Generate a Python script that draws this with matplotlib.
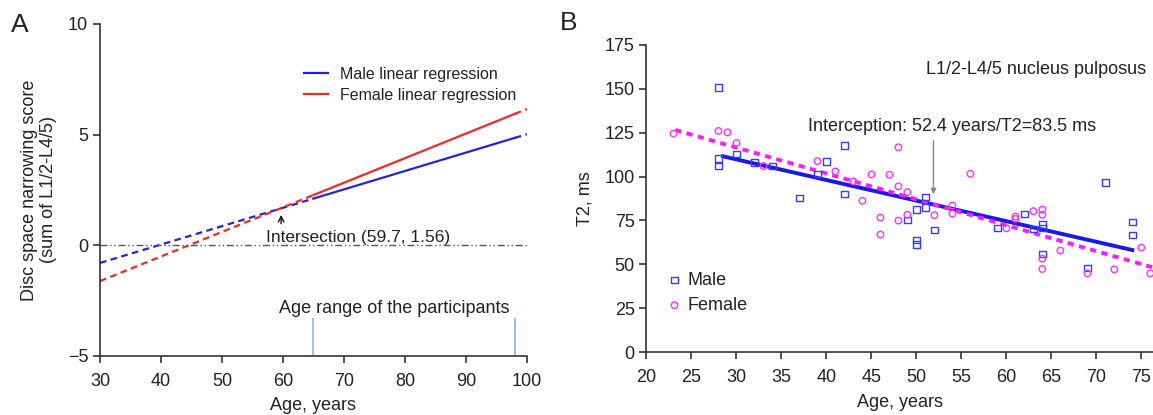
import numpy as np
import matplotlib
matplotlib.use("Agg")
import matplotlib.pyplot as plt

plt.rcParams['font.family'] = ['Liberation Sans', 'DejaVu Sans']

# panel A: linear regressions of disc space narrowing score vs age
male_slope, male_icpt = 0.0831, -3.29
female_slope, female_icpt = 0.1111, -4.95
age_lo, age_hi = 65, 98          # age range of participants
intersect = (59.7, 1.56)

# panel B: T2 of nucleus pulposus
male_age = [28, 28, 28, 30, 32, 34, 37, 39, 40, 42, 42, 49, 50, 50, 50, 51, 51, 52,
            59, 62, 63, 64, 64, 64, 69, 71, 74, 74]
male_t2 = [150.8, 110.2, 106, 113, 108, 106, 87.7, 101.4, 108.5, 117.6, 90.2, 75.3,
           81.2, 63.9, 61.4, 88.4, 82.3, 69.6, 70.7, 78.7, 70.1, 72.6, 70.7, 55.9,
           47.8, 96.5, 74.2, 66.7]
female_age = [23, 28, 29, 30, 33, 39, 41, 43, 44, 45, 46, 46, 47, 48, 48, 48, 49, 49,
              52, 54, 54, 56, 60, 61, 61, 63, 64, 64, 64, 64, 66, 69, 72, 75, 76]
female_t2 = [124.5, 126, 125.2, 119.1, 106, 108.8, 102.9, 97.2, 86.2, 101.2, 76.6,
             66.9, 101, 116.7, 94.4, 74.9, 91.1, 78.2, 78, 83.5, 78.9, 101.6, 70.5,
             77.2, 75.9, 80.3, 81.2, 78.2, 53.2, 47.3, 57.8, 44.8, 47.1, 59.5, 44.8]
male_fit = (-1.174, 145.0)
female_fit = (-1.476, 160.8)
male_fit_range = (28.5, 74)
female_fit_range = (23.2, 77)
intercept_pt = (52.4, 83.5)

txt = '#222222'
fs = 13

fig = plt.figure(figsize=(11.53, 4.15), dpi=100)
axA = fig.add_axes([0.0867, 0.1422, 0.3703, 0.80])
axB = fig.add_axes([0.5607, 0.1518, 0.4393, 0.7398])

for ax in (axA, axB):
    ax.spines['top'].set_visible(False)
    ax.spines['right'].set_visible(False)
    for s in ('left', 'bottom'):
        ax.spines[s].set_color('#333333')
        ax.spines[s].set_linewidth(1.2)
    ax.tick_params(direction='out', length=5, width=1.2, color='#333333',
                   labelsize=fs, labelcolor=txt)
    ax.tick_params(axis='x', pad=7)

# ---- panel A
def line(slope, icpt, x):
    x = np.asarray(x, dtype=float)
    return icpt + slope * x

blue_a, red_a = '#2323d8', '#f02828'
for slope, icpt, col, lab in [(male_slope, male_icpt, blue_a, 'Male linear regression'),
                              (female_slope, female_icpt, red_a, 'Female linear regression')]:
    xl = np.array([30, age_lo])
    axA.plot(xl, line(slope, icpt, xl), color=col, lw=1.6, ls=(0, (3, 2)))
    xm = np.array([age_lo, age_hi])
    axA.plot(xm, line(slope, icpt, xm), color=col, lw=1.6, label=lab)
    xr = np.array([age_hi, 100])
    axA.plot(xr, line(slope, icpt, xr), color=col, lw=1.6, ls=(0, (3, 2)))

axA.axhline(0, color='#555555', lw=1.0, ls=(0, (5, 2, 1, 2, 1, 2)))
axA.vlines([age_lo, age_hi], -5, -3.3, color='#8fb3ea', lw=1.2)
axA.annotate('', xy=(intersect[0], 1.5), xytext=(intersect[0], 0.85),
             arrowprops=dict(arrowstyle='->', color='#111111', lw=1.0))
axA.text(57.3, 0.35, 'Intersection (59.7, 1.56)', fontsize=12.5, color=txt,
         va='center', ha='left')
axA.text(78.2, -2.87, 'Age range of the participants', fontsize=fs, color=txt,
         va='center', ha='center')

axA.set_xlim(30, 100)
axA.set_ylim(-5, 10)
axA.set_xticks(range(30, 101, 10))
axA.set_yticks([-5, 0, 5, 10])
axA.set_yticklabels(['\u22125', '0', '5', '10'])
axA.set_xlabel('Age, years', fontsize=fs, color=txt, labelpad=5)
axA.set_ylabel('Disc space narrowing score\n(sum of L1/2-L4/5)', fontsize=fs,
               color=txt, labelpad=8, linespacing=1.1)
axA.legend(loc='upper left', bbox_to_anchor=(0.444, 0.914), frameon=False,
           fontsize=11.5, handlelength=1.5, handletextpad=0.75, labelspacing=0.35,
           labelcolor=txt)

# ---- panel B
blue_b, mag_b = '#1818e8', '#ff1aff'
xm = np.array(male_fit_range)
axB.plot(xm, male_fit[0] * xm + male_fit[1], color=blue_b, lw=2.8, zorder=3)
xf = np.array(female_fit_range)
axB.plot(xf, female_fit[0] * xf + female_fit[1], color=mag_b, lw=2.8,
         ls=(0, (1.6, 1.4)), zorder=3)
axB.scatter(male_age, male_t2, marker='s', s=22, facecolors='none',
            edgecolors='#3b3bff', linewidths=1.0, zorder=4, label='Male')
axB.scatter(female_age, female_t2, marker='o', s=22, facecolors='none',
            edgecolors='#ff33ff', linewidths=1.0, zorder=4, label='Female')

axB.annotate('', xy=(51.9, 88.3), xytext=(51.9, 122),
             arrowprops=dict(arrowstyle='-|>', color='#888888', lw=1.0,
                             mutation_scale=8))
axB.text(54.0, 128.3, 'Interception: 52.4 years/T2=83.5 ms', fontsize=fs,
         color=txt, ha='center', va='center')
axB.text(75.5, 161, 'L1/2-L4/5 nucleus pulposus', fontsize=fs, color=txt,
         ha='right', va='center')

axB.set_xlim(20, 76.3)
axB.set_ylim(0, 175)
axB.set_xticks(range(20, 80, 5))
axB.set_yticks(range(0, 176, 25))
axB.set_xlabel('Age, years', fontsize=fs, color=txt, labelpad=6)
axB.set_ylabel('T2, ms', fontsize=fs, color=txt, labelpad=8)
axB.legend(loc='lower left', bbox_to_anchor=(0.009, 0.071), frameon=False,
           fontsize=fs, handletextpad=0.3, labelspacing=0.45, handlelength=0.8,
           labelcolor=txt, scatterpoints=1)

fig.text(0.017, 0.94, 'A', fontsize=19, color=txt, ha='center', va='center')
fig.text(0.493, 0.945, 'B', fontsize=19, color=txt, ha='center', va='center')

fig.savefig('out.png', dpi=100)
